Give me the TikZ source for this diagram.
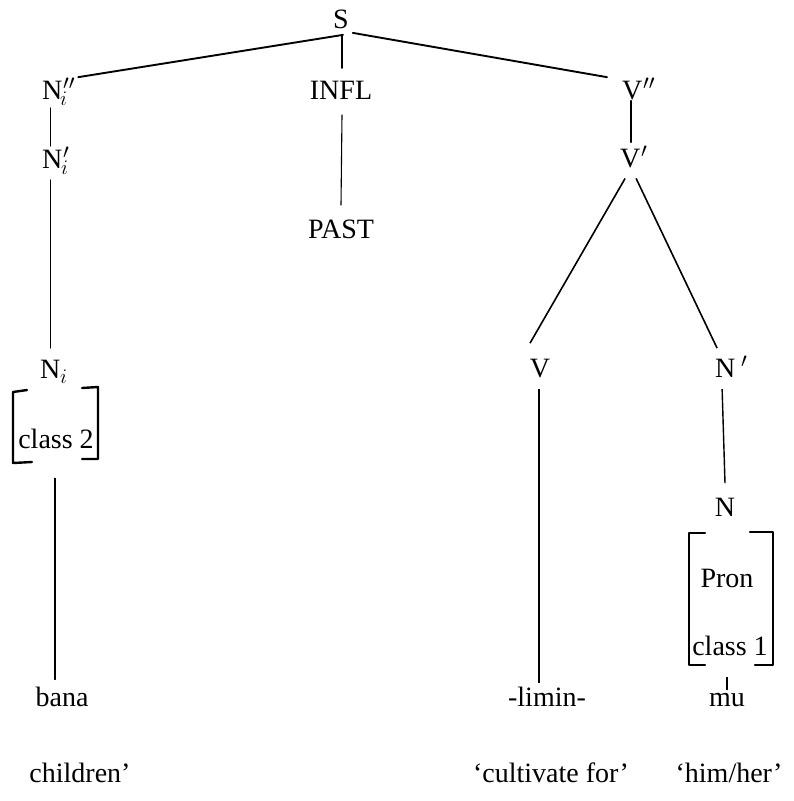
\documentclass[tikz,border=0pt]{standalone}
\usepackage{fontspec}
\setmainfont{Liberation Serif}
\begin{document}
\begin{tikzpicture}[x=1pt,y=-1pt,
  lbl/.style={inner sep=0pt,outer sep=0pt,font=\fontsize{28}{32}\selectfont},
  edge/.style={line width=1.1pt,line cap=round},
  heavy/.style={line width=1.9pt,line cap=round},
  brk/.style={line width=2.4pt,line cap=round,line join=round}]
\useasboundingbox (0,0) rectangle (793,801);

% ---- labels of the tree ----
\node[lbl,anchor=base] (S)    at (341,28)  {S};
\node[lbl,anchor=base] (INFL) at (341,99)  {INFL};
\node[lbl,anchor=base] (PAST) at (341,238) {PAST};

\node[lbl,anchor=base west] (Npp) at (42,99)  {N\rlap{\smash{\kern1pt$^{\prime\prime}_{\kern-3pt i}$}}};
\node[lbl,anchor=base west] (Npi) at (42,168) {N\rlap{\smash{\kern1pt$^{\prime}_{\kern-2pt i}$}}};
\node[lbl,anchor=base west] (Ni)  at (40,378) {N\rlap{\smash{$_{i}$}}};
\node[lbl,anchor=base] (cls2) at (56,448) {class 2};
\node[lbl,anchor=base] (bana) at (62,706) {bana};
\node[lbl,anchor=base] (gl1)  at (80,782) {children’};

\node[lbl,anchor=base west] (Vpp) at (622,99)  {V\rlap{\smash{\kern1pt$^{\prime\prime}$}}};
\node[lbl,anchor=base west] (Vp)  at (620,167) {V\rlap{\smash{\kern1pt$^{\prime}$}}};
\node[lbl,anchor=base] (V)     at (540,377) {V};
\node[lbl,anchor=base west] (Np) at (715,377) {N\rlap{\smash{\kern6pt$^{\prime}$}}};
\node[lbl,anchor=base] (N)     at (725,516) {N};
\node[lbl,anchor=base] (pron)  at (727,587) {Pron};
\node[lbl,anchor=base] (cls1)  at (730,655) {class 1};
\node[lbl,anchor=base] (limin) at (547,706) {-limin-};
\node[lbl,anchor=base] (mu)    at (727,706) {mu};
\node[lbl,anchor=base] (gl2)   at (551,782) {‘cultivate for’};
\node[lbl,anchor=base] (gl3)   at (729,782) {‘him/her’};

% ---- feature brackets ----
\draw[brk] (27,390) -- (13,392) -- (13,463) -- (32,462);
\draw[brk] (82,388) -- (98,387) -- (98,459) -- (82,459);
\draw[brk] (705,533) -- (689,533) -- (689,665) -- (705,665);
\draw[brk] (750,532) -- (773,532) -- (773,665) -- (755,665);

% ---- branches ----
\draw[heavy] ([xshift=2pt,yshift=-6.6pt]S.south) -- ([xshift=16pt,yshift=3.5pt]Npp.north east);
\draw[heavy] ([xshift=4pt,yshift=-4.6pt]S.south east) -- ([xshift=-15pt,yshift=3.5pt]Vpp.north west);
\draw[edge] ([xshift=1pt,yshift=-7.6pt]S.south) -- ([xshift=1pt,yshift=12.5pt]INFL.north);
\draw[edge] ([xshift=1pt,yshift=-16pt]INFL.south) -- ([xshift=0pt,yshift=14.5pt]PAST.north);

\draw[edge] ([xshift=-2pt,yshift=-9pt]Npp.south) -- ([xshift=-2pt,yshift=3.5pt]Npi.north);
\draw[edge] ([xshift=-2pt,yshift=-12pt]Npi.south) -- ([xshift=0pt,yshift=11.5pt]Ni.north);
\draw[edge] ([xshift=-1pt,yshift=-30pt]cls2.south) -- ([xshift=-7pt,yshift=7pt]bana.north);

\draw[heavy] ([xshift=-1pt,yshift=-1.5pt]Vpp.south) -- ([xshift=1pt,yshift=6.5pt]Vp.north);
\draw[line width=1.6pt] ([xshift=-5pt,yshift=-11pt]Vp.south) -- ([xshift=-10pt,yshift=15.5pt]V.north);
\draw[line width=1.6pt] ([xshift=6pt,yshift=-11pt]Vp.south) -- ([xshift=-8pt,yshift=10.5pt]Np.north);
\draw[line width=1.4pt] ([xshift=-1pt,yshift=-12pt]V.south) -- ([xshift=-8pt,yshift=4pt]limin.north);
\draw[line width=1.4pt] ([xshift=-3pt,yshift=-12pt]Np.south) -- ([xshift=0pt,yshift=14.5pt]N.north);
\draw[line width=1.4pt] ([xshift=-3pt,yshift=-22pt]cls1.south) -- ([xshift=0pt,yshift=3pt]mu.north);
\end{tikzpicture}
\end{document}
